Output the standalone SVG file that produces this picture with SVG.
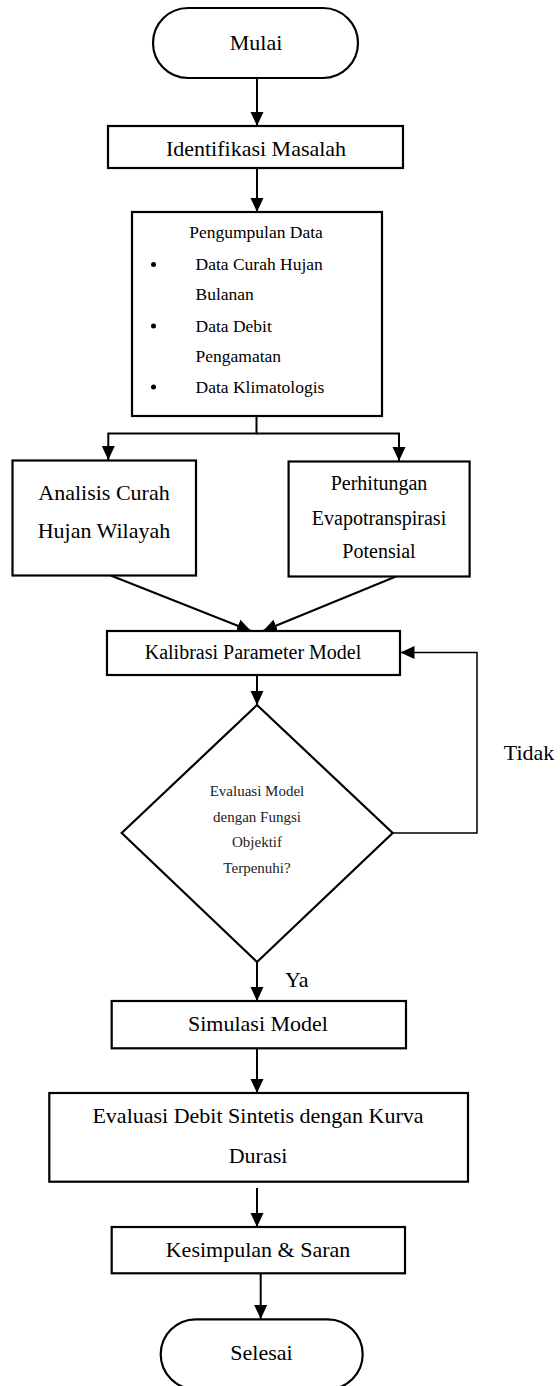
<svg xmlns="http://www.w3.org/2000/svg" width="560" height="1386" viewBox="0 0 560 1386">
<style>
  .box { fill: #fff; stroke: #000; stroke-width: 2.2; }
  text { font-family: 'Liberation Serif', 'DejaVu Serif', serif; fill: #000; }
  .c22 { font-size: 22px; text-anchor: middle; }
  .c20 { font-size: 20px; text-anchor: middle; }
  .s17 { font-size: 17.5px; }
  .d15 { font-size: 15px; text-anchor: middle; fill: #222; }
  .line { fill: none; stroke: #000; stroke-width: 2; }
  .thin { fill: none; stroke: #000; stroke-width: 1.5; }
</style>
<defs>
  <marker id="ah" markerUnits="userSpaceOnUse" markerWidth="14" markerHeight="14" refX="14" refY="6.5" orient="auto" viewBox="0 0 14 13">
    <path d="M0,0 L14,6.5 L0,13 z" fill="#000"/>
  </marker>
</defs>

<g id="connectors">
  <line class="line" x1="257" y1="78" x2="257" y2="126" marker-end="url(#ah)"/>
  <line class="line" x1="257" y1="168" x2="257" y2="212" marker-end="url(#ah)"/>
  <polyline class="line" points="256.5,416 256.5,433.5 108.3,433.5 108.3,460" marker-end="url(#ah)"/>
  <polyline class="line" points="256.5,433.5 399,433.5 399,461" marker-end="url(#ah)"/>
  <line class="line" x1="110.7" y1="575.5" x2="251" y2="631" marker-end="url(#ah)"/>
  <line class="line" x1="396" y1="576.5" x2="263" y2="631" marker-end="url(#ah)"/>
  <line class="line" x1="257" y1="675" x2="257" y2="705" marker-end="url(#ah)"/>
  <polyline class="thin" points="392.7,833 477,833 477,652.5 400.5,652.5" marker-end="url(#ah)"/>
  <line class="line" x1="257" y1="962" x2="257" y2="1001" marker-end="url(#ah)"/>
  <line class="line" x1="257" y1="1048" x2="257" y2="1093" marker-end="url(#ah)"/>
  <line class="line" x1="257" y1="1188" x2="257" y2="1227" marker-end="url(#ah)"/>
  <line class="line" x1="260.7" y1="1273" x2="260.7" y2="1319" marker-end="url(#ah)"/>
  <text class="c22" x="529" y="760" font-family="Liberation Serif, serif">Tidak</text>
  <text x="285" y="987" font-size="22" font-family="Liberation Serif, serif">Ya</text>
</g>

<g id="mulai">
  <rect class="box" x="153" y="8" width="205" height="70" rx="35" ry="35"/>
  <text class="c22" x="256" y="50">Mulai</text>
</g>

<g id="identifikasi">
  <rect class="box" x="108" y="126" width="295" height="42"/>
  <text class="c22" x="256" y="156">Identifikasi Masalah</text>
</g>

<g id="pengumpulan">
  <rect class="box" x="132" y="212" width="250" height="204"/>
  <text class="s17" x="256" y="238" text-anchor="middle">Pengumpulan Data</text>
  <circle cx="153.5" cy="264.5" r="2.5"/>
  <circle cx="153.5" cy="326" r="2.5"/>
  <circle cx="153.5" cy="387" r="2.5"/>
  <text class="s17" x="195.5" y="270">Data Curah Hujan</text>
  <text class="s17" x="195.5" y="300">Bulanan</text>
  <text class="s17" x="195.5" y="331.5">Data Debit</text>
  <text class="s17" x="195.5" y="362">Pengamatan</text>
  <text class="s17" x="195.5" y="392.5">Data Klimatologis</text>
</g>

<g id="analisis">
  <rect class="box" x="12.5" y="460.5" width="183.5" height="115"/>
  <text class="c22" x="104" y="500">Analisis Curah</text>
  <text class="c22" x="104" y="538">Hujan Wilayah</text>
</g>

<g id="evapotranspirasi">
  <rect class="box" x="288.6" y="461.5" width="181" height="115"/>
  <text class="c20" x="379" y="490">Perhitungan</text>
  <text class="c20" x="379" y="525">Evapotranspirasi</text>
  <text class="c20" x="379" y="558">Potensial</text>
</g>

<g id="kalibrasi">
  <rect class="box" x="107" y="631" width="293" height="44"/>
  <text class="c20" x="253" y="659">Kalibrasi Parameter Model</text>
</g>

<g id="evaluasi-model">
  <polygon class="box" points="257,705 392.7,833 257,962 121.7,833"/>
  <text class="d15" x="257" y="796">Evaluasi Model</text>
  <text class="d15" x="257" y="821.5">dengan Fungsi</text>
  <text class="d15" x="257" y="846.5">Objektif</text>
  <text class="d15" x="257" y="872.5">Terpenuhi?</text>
</g>

<g id="simulasi">
  <rect class="box" x="111.7" y="1001" width="294.3" height="47.3"/>
  <text class="c22" x="258" y="1030.5">Simulasi Model</text>
</g>

<g id="evaluasi-debit">
  <rect class="box" x="49.3" y="1093" width="418.7" height="88.7"/>
  <text class="c22" x="258" y="1123">Evaluasi Debit Sintetis dengan Kurva</text>
  <text class="c22" x="258" y="1162.5">Durasi</text>
</g>

<g id="kesimpulan">
  <rect class="box" x="111.7" y="1227" width="293.3" height="46.3"/>
  <text class="c22" x="258" y="1256.5">Kesimpulan &amp; Saran</text>
</g>

<g id="selesai">
  <rect class="box" x="160.7" y="1319.3" width="202" height="70" rx="35" ry="35"/>
  <text class="c22" x="261.5" y="1360">Selesai</text>
</g>
</svg>
